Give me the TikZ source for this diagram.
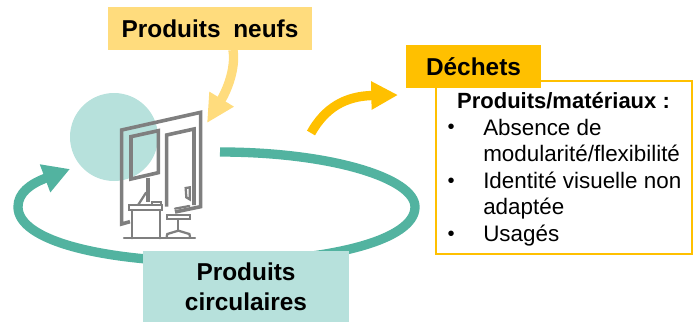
\documentclass[tikz,border=0pt]{standalone}
\usepackage{fontspec}
\setmainfont{Liberation Sans}
\usetikzlibrary{arrows.meta}
\definecolor{tealdark}{HTML}{52B3A0}
\definecolor{teallight}{HTML}{B7E1DC}
\definecolor{yellowlight}{HTML}{FFDC7D}
\definecolor{orangedark}{HTML}{FFC000}
\definecolor{officegray}{HTML}{7F7F7F}

\begin{document}
\begin{tikzpicture}[x=0.75pt, y=-0.75pt,
every node/.style={align=center, inner sep=0pt},
box/.style={minimum width=#1, font=\fontsize{18.3}{22.5}\selectfont\bfseries},
wall/.style={draw=officegray, line width=2.7pt, line join=miter},
desk/.style={draw=officegray, line width=1.7pt, line cap=round},
flow/.style={line width=7pt},
item/.style={anchor=base west, align=left, font=\fontsize{16.8}{20}\selectfont}]
\useasboundingbox (0,0) rectangle (697,322);
%================================================================
% Circle
\fill[teallight] (114,137) circle (44);

%================================================================
% Office
\begin{scope}[shift={(50,80)}, x=0.25pt, y=-0.25pt]
% --------------------------------
% Wall
\draw[wall] (240,425) -- (215,432) -- (215,150) -- (452,97) -- (452,380) -- (375,396);
\draw[wall] (243,170) -- (325,152) -- (325,278) -- (243,297) -- cycle;
\draw[wall] (350,380) -- (350,165) -- (432,147) -- (432,375);
% --------------------------------
% Desk
\draw[desk] (222,475) -- (435,475);
\draw[desk] (245,475) -- (245,390);
\draw[desk] (330,475) -- (330,390);
\draw[desk] (237,376) rectangle (336,390);
\draw[desk] (305,367) rectangle (332,376);
\draw[desk] (292,297) -- (298,297) -- (298,362) -- (292,362) -- cycle;
\draw[desk] (288,338) -- (265,374);
% --------------------------------
% Chair
\draw[desk] (350,405) rectangle (420,417);
\draw[desk] (375,386) -- (418,378);
\draw[desk] (407,324) -- (419,322) -- (419,358) -- (409,352) -- cycle;
\draw[desk] (385,417) -- (385,452);
\draw[desk] (350,470) -- (352,462) -- (385,452) -- (418,462) -- (420,470);
\end{scope}

%================================================================
% Cycle
\coordinate (cycleStart) at (220,152);
\coordinate (cycleEnd) at (70,169);
\draw[flow, color=tealdark, -{Triangle[length=20pt,width=21pt]}] (cycleStart)
  .. controls (330,152) and (415,178) .. (415,207)
  .. controls (415,240) and (330,262) .. (217,262)
  .. controls (100,262) and (18,240) .. (18,207)
  .. controls (18,193) and (30,184) .. (cycleEnd);

%================================================================
% Boxes
\node[box=153pt, fill=yellowlight, minimum height=32.25pt] (neufs) at (210,28.5) {Produits\hspace{9.5pt}neufs};
\node[box=154.5pt, fill=teallight, minimum height=53.25pt] (circulaires) at (246,286.5) {Produits\\circulaires};
\draw[orangedark, line width=1.1pt] (436,81) rectangle (692,254);
\node[box=101.25pt, fill=orangedark, minimum height=32.25pt] (dechets) at (473.5,66.5) {Déchets};

%================================================================
% Arrows
\coordinate (neufsOut) at (233,50);
\coordinate (neufsEnd) at (207,123);
\draw[flow, color=yellowlight, -{Triangle[length=21pt,width=20pt]}] (neufsOut) .. controls (236,70) and (226,92) .. (neufsEnd);
\coordinate (dechetsOut) at (311,133);
\coordinate (dechetsEnd) at (398,95);
\draw[flow, color=orangedark, -{Triangle[length=20pt,width=20pt]}] (dechetsOut) .. controls (325,108) and (345,96) .. (dechetsEnd);

%================================================================
% List
\node[font=\fontsize{16.5}{20}\selectfont\bfseries] (titre) at (563.5,101) {Produits/matériaux :};
\foreach \name/\y in {a/133.5,b/187,c/240}
  \node[item, scale=0.9] (bullet\name) at (447.5,\y) {\textbullet};
\node[item] (absence) at (483,135) {Absence de};
\node[item] (modularite) at (483,161.5) {modularité/flexibilité};
\node[item] (identite) at (483,188) {Identité visuelle non};
\node[item] (adaptee) at (483,214.5) {adaptée};
\node[item] (usages) at (483,241) {Usagés};

%================================================================
\end{tikzpicture}
\end{document}
